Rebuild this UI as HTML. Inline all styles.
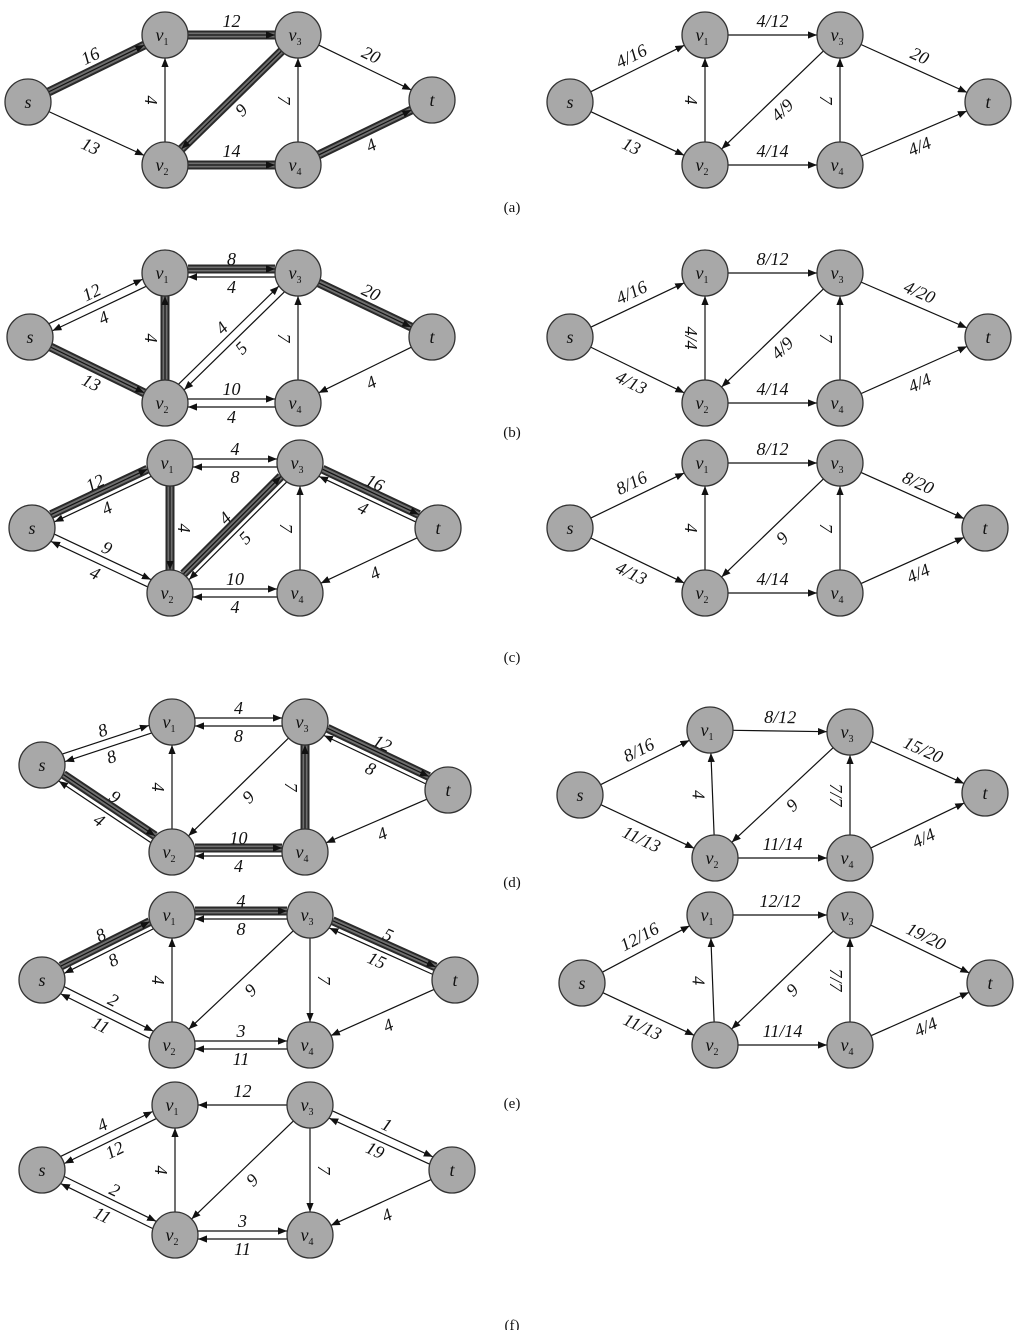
<!DOCTYPE html>
<html><head><meta charset="utf-8">
<style>
html,body{margin:0;padding:0;background:#fff;}
svg{display:block;}
text{font-family:"Liberation Serif",serif;}
</style></head>
<body>
<svg id="fig" width="1029" height="1330" viewBox="0 0 1029 1330" xmlns="http://www.w3.org/2000/svg">
<defs>
<marker id="ah" viewBox="0 0 10 10" refX="10" refY="5" markerWidth="9" markerHeight="9" markerUnits="userSpaceOnUse" orient="auto"><path d="M0,1 L10,5 L0,9 z" fill="#111"/></marker>
</defs>
</svg>
<script>
// node order: s, v1, v2, v3, v4, t
const nodeNames = ['s','v1','v2','v3','v4','t'];
const panelOrigins = [
 [[28,102],[165,35],[165,165],[298,35],[298,165],[432,100]],
 [[570,102],[705,35],[705,165],[840,35],[840,165],[988,102]],
 [[30,337],[165,273],[165,403],[298,273],[298,403],[432,337]],
 [[570,337],[705,273],[705,403],[840,273],[840,403],[988,337]],
 [[32,528],[170,463],[170,593],[300,463],[300,593],[438,528]],
 [[570,528],[705,463],[705,593],[840,463],[840,593],[985,528]],
 [[42,765],[172,722],[172,852],[305,722],[305,852],[448,790]],
 [[580,795],[710,730],[715,858],[850,732],[850,858],[985,793]],
 [[42,980],[172,915],[172,1045],[310,915],[310,1045],[455,980]],
 [[582,983],[710,915],[715,1045],[850,915],[850,1045],[990,983]],
 [[42,1170],[175,1105],[175,1235],[310,1105],[310,1235],[452,1170]]
];
// edges: [from, to, label, highlighted(1/0), side override (0 = default)]
const edgesA = [[0,1,'16',1,0],[0,2,'13',0,-1],[1,3,'12',1,0],[2,1,'4',0,0],[3,2,'9',1,0],[2,4,'14',1,0],[4,3,'7',0,0],[3,5,'20',0,0],[4,5,'4',1,-1]];
const edgesA2 = [[0,1,'4/16',0,0],[0,2,'13',0,-1],[1,3,'4/12',0,0],[2,1,'4',0,0],[3,2,'4/9',0,0],[2,4,'4/14',0,0],[4,3,'7',0,0],[3,5,'20',0,0],[4,5,'4/4',0,-1]];
const edgesB = [[0,1,'12',0,0],[1,0,'4',0,0],[0,2,'13',1,-1],[2,1,'4',1,0],[1,3,'8',1,0],[3,1,'4',0,0],[2,3,'4',0,0],[3,2,'5',0,0],[2,4,'10',0,0],[4,2,'4',0,0],[4,3,'7',0,0],[3,5,'20',1,0],[5,4,'4',0,0]];
const edgesB2 = [[0,1,'4/16',0,0],[0,2,'4/13',0,-1],[1,3,'8/12',0,0],[2,1,'4/4',0,0],[3,2,'4/9',0,0],[2,4,'4/14',0,0],[4,3,'7',0,0],[3,5,'4/20',0,0],[4,5,'4/4',0,-1]];
const edgesC = [[0,1,'12',1,0],[1,0,'4',0,0],[0,2,'9',0,0],[2,0,'4',0,0],[1,3,'4',0,0],[3,1,'8',0,0],[1,2,'4',1,0],[2,3,'4',1,0],[3,2,'5',0,0],[2,4,'10',0,0],[4,2,'4',0,0],[4,3,'7',0,0],[3,5,'16',1,0],[5,3,'4',0,0],[5,4,'4',0,0]];
const edgesC2 = [[0,1,'8/16',0,0],[0,2,'4/13',0,-1],[1,3,'8/12',0,0],[2,1,'4',0,0],[3,2,'9',0,0],[2,4,'4/14',0,0],[4,3,'7',0,0],[3,5,'8/20',0,0],[4,5,'4/4',0,-1]];
const edgesD = [[0,1,'8',0,0],[1,0,'8',0,0],[0,2,'9',1,0],[2,0,'4',0,0],[1,3,'4',0,0],[3,1,'8',0,0],[2,1,'4',0,0],[3,2,'9',0,0],[2,4,'10',1,0],[4,2,'4',0,0],[4,3,'7',1,0],[3,5,'12',1,0],[5,3,'8',0,0],[5,4,'4',0,0]];
const edgesD2 = [[0,1,'8/16',0,0],[0,2,'11/13',0,-1],[1,3,'8/12',0,0],[2,1,'4',0,0],[3,2,'9',0,0],[2,4,'11/14',0,0],[4,3,'7/7',0,0],[3,5,'15/20',0,0],[4,5,'4/4',0,-1]];
const edgesE = [[0,1,'8',1,0],[1,0,'8',0,0],[0,2,'2',0,0],[2,0,'11',0,0],[1,3,'4',1,0],[3,1,'8',0,0],[2,1,'4',0,0],[3,2,'9',0,0],[2,4,'3',0,0],[4,2,'11',0,0],[3,4,'7',0,0],[3,5,'5',1,0],[5,3,'15',0,0],[5,4,'4',0,0]];
const edgesE2 = [[0,1,'12/16',0,0],[0,2,'11/13',0,-1],[1,3,'12/12',0,0],[2,1,'4',0,0],[3,2,'9',0,0],[2,4,'11/14',0,0],[4,3,'7/7',0,0],[3,5,'19/20',0,0],[4,5,'4/4',0,-1]];
const edgesF = [[0,1,'4',0,0],[1,0,'12',0,0],[0,2,'2',0,0],[2,0,'11',0,0],[3,1,'12',0,1],[2,1,'4',0,0],[3,2,'9',0,0],[2,4,'3',0,0],[4,2,'11',0,0],[3,4,'7',0,0],[3,5,'1',0,0],[5,3,'19',0,0],[5,4,'4',0,0]];
const panelEdges = [edgesA,edgesA2,edgesB,edgesB2,edgesC,edgesC2,edgesD,edgesD2,edgesE,edgesE2,edgesF];
const captions = ['(a)','(b)','(c)','(d)','(e)','(f)'];
const captionY = [212,437,662,887,1108,1330];

const NS='http://www.w3.org/2000/svg';
const svg=document.getElementById('fig');
const R=23;
function mk(tag,attrs,parent){const e=document.createElementNS(NS,tag);for(const k in attrs)e.setAttribute(k,attrs[k]);(parent||svg).appendChild(e);return e;}

panelEdges.forEach((edges,p)=>{
  const pos=panelOrigins[p];
  const g=mk('g',{});
  
  
  edges.forEach(e=>{
    const [a,b,lab,hi,side]=e;
    const hasRev=edges.some(f=>f[0]===b&&f[1]===a);
    const lo=Math.min(a,b),hiN=Math.max(a,b);
    const P=pos[lo],Q=pos[hiN];
    let dx=Q[0]-P[0],dy=Q[1]-P[1];const L=Math.hypot(dx,dy);dx/=L;dy/=L;
    const nx=dy,ny=-dx;
    const fwd=(a===lo)?1:-1;
    const off=hasRev?4*fwd:0;
    const A=pos[a],B=pos[b];
    let ux=(B[0]-A[0])/L,uy=(B[1]-A[1])/L;
    const x1=A[0]+ux*R+nx*off,y1=A[1]+uy*R+ny*off;
    const x2=B[0]-ux*R+nx*off,y2=B[1]-uy*R+ny*off;
    if(hi){
      const h1=mk('line',{x1,y1,x2,y2,stroke:'#2a2a2a','stroke-width':9},g);
      
      
      mk('line',{x1,y1,x2,y2,stroke:'#6e6e6e','stroke-width':5},g);
    }
    const ln=mk('line',{x1,y1,x2,y2,stroke:'#111','stroke-width':1.2,'marker-end':'url(#ah)'},g);
    
    
    const s=side!==0?side:fwd;
    const mx=(A[0]+B[0])/2+nx*14*s, my=(A[1]+B[1])/2+ny*14*s;
    let ang=Math.atan2(dy,dx)*180/Math.PI;
    if(ang>90)ang-=180;if(ang<=-90)ang+=180;
    const t=mk('text',{x:mx,y:my+6,'font-size':18,'text-anchor':'middle','font-style':'italic',fill:'#111',transform:`rotate(${ang.toFixed(1)} ${mx} ${my})`},g);
    t.textContent=lab;
    
    
  });
  pos.forEach((c,i)=>{
    const n=mk('circle',{cx:c[0],cy:c[1],r:R,fill:'#a8a8a8',stroke:'#333','stroke-width':1.3},g);
    
    
    const t=mk('text',{x:c[0]-(i>0&&i<5?3:0),y:c[1]+6,'font-size':18,'font-style':'italic','text-anchor':'middle',fill:'#111'},g);
    
    
    if(i===0||i===5){t.textContent=nodeNames[i];}
    else{t.textContent='v';const ts=mk('tspan',{'font-size':10,dy:4,'font-style':'normal'},t);ts.textContent=nodeNames[i][1];}
  });
});
captions.forEach((c,i)=>{
  const t=mk('text',{x:512,y:captionY[i],'font-size':15,'text-anchor':'middle',fill:'#111'});
  t.textContent=c;
  
  
});
</script>
</body></html>
